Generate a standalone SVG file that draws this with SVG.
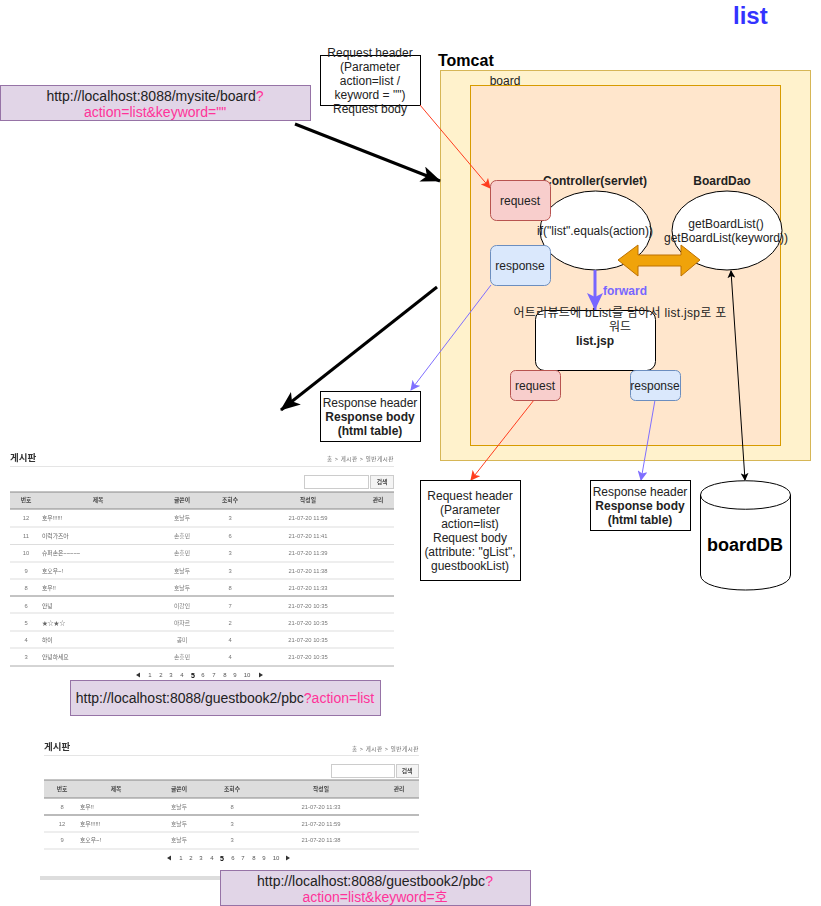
<svg xmlns="http://www.w3.org/2000/svg" width="821" height="906" viewBox="0 0 821 906">
<style>
text{font-family:"Liberation Sans","Noto Sans CJK KR",sans-serif;fill:#222}
.c{text-anchor:middle;font-size:12px}
.b{font-weight:bold}
.u{font-size:14px;text-anchor:middle}
.p{fill:#ff3399}
.url{fill:#e1d5e7;stroke:#9673a6}
.req{fill:#f8cecc;stroke:#b85450}
.res{fill:#dae8fc;stroke:#6c8ebf}
.wb{fill:#fff;stroke:#000}
.t{font-size:5.800px;fill:#777;text-anchor:middle}
.h{font-size:5.800px;fill:#444;text-anchor:middle;font-weight:bold}
.s{font-size:5.800px;fill:#666}
.g{font-size:6px;fill:#555;text-anchor:middle}
.cr{font-size:5.500px;text-anchor:end;fill:#666;letter-spacing:.6px}
</style>
<defs>
<filter id="soft" x="-5%" y="-5%" width="110%" height="110%"><feGaussianBlur stdDeviation="0.35"/></filter>
<marker id="ah" markerWidth="8" markerHeight="8" refX="7" refY="4" orient="auto-start-reverse" markerUnits="userSpaceOnUse"><path d="M0 0L8 4L0 8L2 4Z" fill="#000"/></marker>
<marker id="ar" markerWidth="10" markerHeight="10" refX="9" refY="5" orient="auto" markerUnits="userSpaceOnUse"><path d="M0 0L10 5L0 10L2.500 5Z" fill="#ff3d1f"/></marker>
<marker id="av" markerWidth="10" markerHeight="10" refX="9" refY="5" orient="auto" markerUnits="userSpaceOnUse"><path d="M0 0L10 5L0 10L2.500 5Z" fill="#7f6fff"/></marker>
<marker id="ak" markerWidth="20" markerHeight="16" refX="19" refY="8" orient="auto" markerUnits="userSpaceOnUse"><path d="M0 0L20 8L0 16L5 8Z" fill="#000"/></marker>
<marker id="afw" markerWidth="18" markerHeight="16" refX="17" refY="8" orient="auto" markerUnits="userSpaceOnUse"><path d="M0 0L17 8L0 16L4 8Z" fill="#7766ff"/></marker>
</defs>

<text x="733" y="24" font-size="24" font-weight="bold" style="fill:#3333ff">list</text>

<g id="tomcat"><rect x="440.500" y="70.500" width="370" height="390" fill="#fff2cc" stroke="#d6b656"/><text x="438" y="66" font-size="16" font-weight="bold" style="fill:#000">Tomcat</text></g>
<g id="board"><rect x="470.500" y="85.500" width="310" height="360" fill="#ffe6cc" stroke="#d79b00"/><text x="505" y="85" class="c">board</text></g>

<g id="url1"><rect class="url" x="0.500" y="85.500" width="310" height="35"/><text class="u" x="155" y="101">http://localhost:8088/mysite/board<tspan class="p">?</tspan></text><text class="u p" x="155" y="117">action=list&amp;keyword=""</text></g>

<g id="reqhead"><rect class="wb" x="320.500" y="55.500" width="100" height="50"/>
<text class="c" x="370" y="57">Request header</text><text class="c" x="370" y="71">(Parameter</text><text class="c" x="370" y="85">action=list /</text><text class="c" x="370" y="99">keyword = "")</text><text class="c" x="370" y="113">Request body</text></g>

<g id="connectors" fill="none">
<path d="M295 124L440 181" stroke="#000" stroke-width="3" marker-end="url(#ak)"/>
<path d="M437 287L281 410" stroke="#000" stroke-width="3" marker-end="url(#ak)"/>
<path d="M420 105L490 188" stroke="#ff3d1f" marker-end="url(#ar)"/>
<path d="M491 285L411 390" stroke="#7f6fff" marker-end="url(#av)"/>
<path d="M534 400L471 480" stroke="#ff3d1f" marker-end="url(#ar)"/>
<path d="M655 400L641 480" stroke="#7f6fff" marker-end="url(#av)"/>
</g>

<g id="controller"><ellipse class="wb" cx="595.500" cy="230.500" rx="55.500" ry="39.500"/><text class="c b" x="595" y="185">Controller(servlet)</text><text class="c" x="595" y="235">if("list".equals(action))</text></g>
<g id="dao"><ellipse class="wb" cx="727" cy="230.500" rx="55" ry="39.500"/><text class="c b" x="722" y="185">BoardDao</text><text class="c" x="726" y="228">getBoardList()</text><text class="c" x="726" y="242">getBoardList(keyword))</text></g>
<g id="request1"><rect class="req" x="490.500" y="180.500" width="60" height="40" rx="6"/><text class="c" x="520" y="205">request</text></g>
<g id="response1"><rect class="res" x="490.500" y="245.500" width="60" height="40" rx="6"/><text class="c" x="520" y="270">response</text></g>
<g id="listjsp"><rect class="wb" x="535.500" y="310.500" width="120" height="60" rx="9"/><text class="c b" x="595" y="345">list.jsp</text></g>
<g id="connectors2" fill="none">
<path d="M618 260L638 245V255H681V245L700 260L681 276V266H638V276Z" fill="#f0a30a" stroke="#bd7000"/>
<path d="M595 270V310" stroke="#7766ff" stroke-width="3" marker-end="url(#afw)"/>
<path d="M745 480L731 271" stroke="#000" marker-start="url(#ah)" marker-end="url(#ah)"/>
</g>
<text x="603" y="295" font-size="12" font-weight="bold" style="fill:#7766ff">forward</text>
<text class="c" x="620" y="317" letter-spacing=".3">어트리뷰트에 bList를 담아서 list.jsp로 포</text><text class="c" x="620" y="331">워드</text>
<g id="request2"><rect class="req" x="510.500" y="370.500" width="50" height="30" rx="5"/><text class="c" x="535" y="390">request</text></g>
<g id="response2"><rect class="res" x="630.500" y="370.500" width="50" height="30" rx="5"/><text class="c" x="655" y="390">response</text></g>

<g id="resp-a"><rect class="wb" x="320.500" y="391.500" width="100" height="50"/><text class="c" x="370" y="407">Response header</text><text class="c b" x="370" y="421">Response body</text><text class="c b" x="370" y="435">(html table)</text></g>
<g id="req-b"><rect class="wb" x="420.500" y="480.500" width="100" height="100"/><text class="c" x="470" y="500">Request header</text><text class="c" x="470" y="514">(Parameter</text><text class="c" x="470" y="528">action=list)</text><text class="c" x="470" y="542">Request body</text><text class="c" x="470" y="556">(attribute: "gList",</text><text class="c" x="470" y="570">guestbookList)</text></g>
<g id="resp-b"><rect class="wb" x="590.500" y="480.500" width="100" height="50"/><text class="c" x="640" y="496">Response header</text><text class="c b" x="640" y="510">Response body</text><text class="c b" x="640" y="524">(html table)</text></g>
<g id="db"><path d="M700.500 495C700.500 476 790.500 476 790.500 495V575C790.500 595 700.500 595 700.500 575Z" fill="#fff" stroke="#000"/><path d="M700.500 495C700.500 514 790.500 514 790.500 495" fill="none" stroke="#000"/><text x="745" y="551" font-size="18" font-weight="bold" text-anchor="middle" style="fill:#000">boardDB</text></g>

<g id="shot1" filter="url(#soft)">
<text x="10" y="461" font-size="9.500" font-weight="bold" style="fill:#333">게시판</text>
<text class="cr" x="394" y="461">홈 &gt; 게시판 &gt; 일반게시판</text>
<path d="M10 466.500H394" stroke="#e5e5e5"/>
<rect x="304.500" y="475.500" width="64" height="13" fill="#fff" stroke="#ccc"/>
<rect x="370.500" y="475.500" width="23" height="13" fill="#f4f4f4" stroke="#ccc"/><text class="h" x="382" y="484">검색</text>
<rect x="10" y="492" width="384" height="17" fill="#ddd"/><path d="M10 492H394M10 509H394" stroke="#888"/>
<g class="hdr"><text class="h" x="26" y="502">번호</text><text class="h" x="98" y="502">제목</text><text class="h" x="182" y="502">글쓴이</text><text class="h" x="230" y="502">조회수</text><text class="h" x="308" y="502">작성일</text><text class="h" x="378" y="502">관리</text></g>
<path d="M10 527H394M10 544.500H394M10 562H394M10 579H394M10 631H394M10 613H394M10 648H394" stroke="#ddd"/>
<path d="M10 596H394" stroke="#888"/><path d="M10 666H394" stroke="#aaa"/>
<text class="t" x="26" y="520">12</text><text class="s" x="42" y="520">호우!!!!!!</text><text class="t" x="182" y="520">호날두</text><text class="t" x="230" y="520">3</text><text class="t" x="308" y="520">21-07-20 11:59</text>
<text class="t" x="26" y="538">11</text><text class="s" x="42" y="538">이럭가즈아</text><text class="t" x="182" y="538">손흥민</text><text class="t" x="230" y="538">6</text><text class="t" x="308" y="538">21-07-20 11:41</text>
<text class="t" x="26" y="555">10</text><text class="s" x="42" y="555">슈퍼손은~~~~~</text><text class="t" x="182" y="555">손흥민</text><text class="t" x="230" y="555">3</text><text class="t" x="308" y="555">21-07-20 11:39</text>
<text class="t" x="26" y="573">9</text><text class="s" x="42" y="573">호오우~!</text><text class="t" x="182" y="573">호날두</text><text class="t" x="230" y="573">3</text><text class="t" x="308" y="573">21-07-20 11:38</text>
<text class="t" x="26" y="590">8</text><text class="s" x="42" y="590">호우!!</text><text class="t" x="182" y="590">호날두</text><text class="t" x="230" y="590">8</text><text class="t" x="308" y="590">21-07-20 11:33</text>
<text class="t" x="26" y="608">6</text><text class="s" x="42" y="608">안녕</text><text class="t" x="182" y="608">이강인</text><text class="t" x="230" y="608">7</text><text class="t" x="308" y="608">21-07-20 10:35</text>
<text class="t" x="26" y="625">5</text><text class="s" x="42" y="625">★☆★☆</text><text class="t" x="182" y="625">아자르</text><text class="t" x="230" y="625">2</text><text class="t" x="308" y="625">21-07-20 10:35</text>
<text class="t" x="26" y="642">4</text><text class="s" x="42" y="642">하이</text><text class="t" x="182" y="642">공미</text><text class="t" x="230" y="642">4</text><text class="t" x="308" y="642">21-07-20 10:35</text>
<text class="t" x="26" y="659">3</text><text class="s" x="42" y="659">안녕하세요</text><text class="t" x="182" y="659">손흥민</text><text class="t" x="230" y="659">4</text><text class="t" x="308" y="659">21-07-20 10:35</text>
<path d="M136 675L140 672.500V677.500ZM263 675L259 672.500V677.500Z" fill="#333"/>
<g class="pg"><text class="g" x="150" y="677">1</text><text class="g" x="161" y="677">2</text><text class="g" x="171" y="677">3</text><text class="g" x="182" y="677">4</text><text class="g" x="193" y="678" font-weight="bold" style="fill:#000;font-size:7px">5</text><text class="g" x="203" y="677">6</text><text class="g" x="214" y="677">7</text><text class="g" x="225" y="677">8</text><text class="g" x="235" y="677">9</text><text class="g" x="247" y="677">10</text></g>
</g>
<g id="url2"><rect class="url" x="70.500" y="680.500" width="310" height="35"/><text class="u" x="225" y="703">http://localhost:8088/guestbook2/pbc<tspan class="p">?action=list</tspan></text></g>

<g id="shot2" filter="url(#soft)">
<text x="44" y="750" font-size="9.500" font-weight="bold" style="fill:#333">게시판</text>
<text class="cr" x="419" y="751">홈 &gt; 게시판 &gt; 일반게시판</text>
<path d="M44 755.500H419" stroke="#e5e5e5"/>
<rect x="331.500" y="764.500" width="63" height="13" fill="#fff" stroke="#ccc"/>
<rect x="396.500" y="764.500" width="22" height="13" fill="#f4f4f4" stroke="#ccc"/><text class="h" x="407" y="773">검색</text>
<rect x="44" y="780" width="375" height="18" fill="#ddd"/><path d="M44 780H419M44 798H419" stroke="#888"/>
<text class="h" x="62" y="791">번호</text><text class="h" x="116" y="791">제목</text><text class="h" x="179" y="791">글쓴이</text><text class="h" x="232" y="791">조회수</text><text class="h" x="321" y="791">작성일</text><text class="h" x="399" y="791">관리</text>
<path d="M44 815H419" stroke="#bbb" stroke-width="2"/><path d="M44 832H419M44 849H419" stroke="#ddd"/>
<text class="t" x="62" y="809">8</text><text class="s" x="80" y="809">호우!!</text><text class="t" x="179" y="809">호날두</text><text class="t" x="232" y="809">8</text><text class="t" x="321" y="809">21-07-20 11:33</text>
<text class="t" x="62" y="826">12</text><text class="s" x="80" y="826">호우!!!!!!</text><text class="t" x="179" y="826">호날두</text><text class="t" x="232" y="826">3</text><text class="t" x="321" y="826">21-07-20 11:59</text>
<text class="t" x="62" y="842">9</text><text class="s" x="80" y="842">호오우~!</text><text class="t" x="179" y="842">호날두</text><text class="t" x="232" y="842">3</text><text class="t" x="321" y="842">21-07-20 11:38</text>
<path d="M167 858L171 855.500V860.500ZM290 858L286 855.500V860.500Z" fill="#333"/>
<text class="g" x="181" y="860">1</text><text class="g" x="191" y="860">2</text><text class="g" x="201" y="860">3</text><text class="g" x="212" y="860">4</text><text class="g" x="222" y="861" font-weight="bold" style="fill:#000;font-size:7px">5</text><text class="g" x="233" y="860">6</text><text class="g" x="243" y="860">7</text><text class="g" x="254" y="860">8</text><text class="g" x="264" y="860">9</text><text class="g" x="276" y="860">10</text>
<rect x="40" y="876" width="200" height="4" fill="#ddd"/>
</g>
<g id="url3"><rect class="url" x="220.500" y="870.500" width="310" height="35"/><text class="u" x="375" y="886">http://localhost:8088/guestbook2/pbc<tspan class="p">?</tspan></text><text class="u p" x="375" y="902">action=list&amp;keyword=호</text></g>
</svg>
